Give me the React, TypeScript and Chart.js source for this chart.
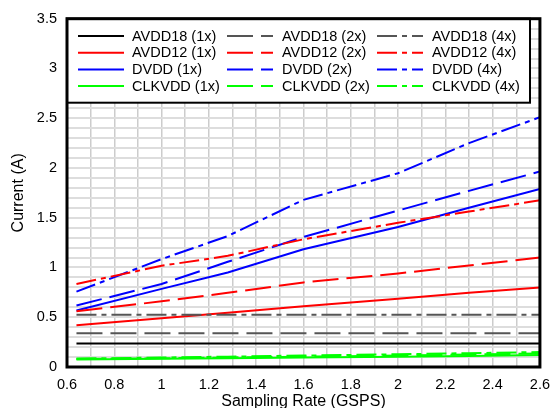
import React, { useEffect, useRef } from 'react';
import { Chart, registerables } from 'chart.js';

Chart.register(...registerables);

// Sampling rate (GSPS)
const rates = [0.64, 1.0, 1.28, 1.6, 2.0, 2.3, 2.6];

// Current (A)
const avdd18_1x = [0.235, 0.235, 0.235, 0.235, 0.235, 0.235, 0.235];
const avdd18_2x = [0.34, 0.34, 0.34, 0.34, 0.34, 0.34, 0.34];
const avdd18_4x = [0.525, 0.525, 0.525, 0.525, 0.525, 0.525, 0.525];

const avdd12_1x = [0.42, 0.49, 0.545, 0.61, 0.685, 0.745, 0.8];
const avdd12_2x = [0.56, 0.66, 0.745, 0.85, 0.94, 1.02, 1.1];
const avdd12_4x = [0.835, 1.017, 1.117, 1.283, 1.449, 1.562, 1.675];

const dvdd_1x = [0.568, 0.785, 0.95, 1.183, 1.406, 1.6, 1.79];
const dvdd_2x = [0.618, 0.834, 1.057, 1.306, 1.572, 1.77, 1.964];
const dvdd_4x = [0.757, 1.084, 1.316, 1.68, 1.947, 2.25, 2.51];

const clkvdd_1x = [0.075, 0.082, 0.088, 0.095, 0.104, 0.111, 0.12];
const clkvdd_2x = [0.08, 0.088, 0.096, 0.104, 0.115, 0.125, 0.135];
const clkvdd_4x = [0.085, 0.095, 0.104, 0.115, 0.128, 0.139, 0.15];

const railNames = ['AVDD18', 'AVDD12', 'DVDD', 'CLKVDD'];
const modeNames = ['1x', '2x', '4x'];

const xTitle = 'Sampling Rate (GSPS)';
const yTitle = 'Current (A)';

const FONT = '"Liberation Sans", Arial, Helvetica, sans-serif';

export default function App() {
  const ref = useRef<HTMLCanvasElement>(null);

  useEffect(() => {
    document.body.style.margin = '0';
    const canvas = ref.current;
    if (!canvas) return;

    const railColors = [
      ['#000000', '#555555', '#555555'],
      ['#ff0000', '#ff0000', '#ff0000'],
      ['#0000ff', '#0000ff', '#0000ff'],
      ['#00ff00', '#00ff00', '#00ff00'],
    ];
    const dashes: number[][] = [[], [26, 8], [20, 5, 5, 5]];
    const values = [
      [avdd18_1x, avdd18_2x, avdd18_4x],
      [avdd12_1x, avdd12_2x, avdd12_4x],
      [dvdd_1x, dvdd_2x, dvdd_4x],
      [clkvdd_1x, clkvdd_2x, clkvdd_4x],
    ];

    const datasets: any[] = [];
    railNames.forEach((rail, r) => {
      modeNames.forEach((mode, c) => {
        datasets.push({
          label: `${rail} (${mode})`,
          data: rates.map((x, i) => ({ x, y: values[r][c][i] })),
          borderColor: railColors[r][c],
          backgroundColor: railColors[r][c],
          borderDash: dashes[c],
          borderWidth: 2,
          pointRadius: 0,
          tension: 0,
          fill: false,
        });
      });
    });

    const boxLegend = {
      id: 'boxLegend',
      afterDraw(chart: any) {
        const { ctx, chartArea: a } = chart;
        ctx.save();
        const bx = a.left;
        const by = a.top;
        const bw = 463;
        const bh = 84;
        ctx.fillStyle = '#ffffff';
        ctx.fillRect(bx, by, bw, bh);
        ctx.lineWidth = 2;
        ctx.strokeStyle = '#000000';
        ctx.setLineDash([]);
        ctx.strokeRect(bx, by, bw, bh);

        const colLine = [11, 160, 310];
        const colText = [65, 215, 365];
        const rowY = [17.3, 34, 50.7, 67.3];
        ctx.font = `14.5px ${FONT}`;
        ctx.textBaseline = 'middle';
        ctx.textAlign = 'left';
        chart.data.datasets.forEach((ds: any, i: number) => {
          const r = Math.floor(i / 3);
          const c = i % 3;
          const y = by + rowY[r];
          ctx.strokeStyle = ds.borderColor;
          ctx.lineWidth = 2;
          ctx.setLineDash(ds.borderDash || []);
          ctx.beginPath();
          ctx.moveTo(bx + colLine[c], y);
          ctx.lineTo(bx + colLine[c] + 46, y);
          ctx.stroke();
          ctx.setLineDash([]);
          ctx.fillStyle = '#000000';
          ctx.fillText(ds.label, bx + colText[c], y + 0.5);
        });

        // plot frame
        ctx.setLineDash([]);
        ctx.strokeStyle = '#000000';
        ctx.lineWidth = 3;
        ctx.strokeRect(a.left, a.top, a.right - a.left, a.bottom - a.top);
        ctx.restore();
      },
    };

    const chart = new Chart(canvas, {
      type: 'line',
      data: { datasets },
      plugins: [boxLegend],
      options: {
        animation: false,
        responsive: false,
        maintainAspectRatio: false,
        layout: { padding: { top: 16, right: 12, left: 0, bottom: 0 } },
        font: { family: FONT, size: 14 },
        plugins: {
          legend: { display: false },
          tooltip: { enabled: false },
        },
        scales: {
          x: {
            type: 'linear',
            min: 0.6,
            max: 2.6,
            ticks: {
              stepSize: 0.1,
              autoSkip: false,
              maxRotation: 0,
              minRotation: 0,
              padding: 9,
              color: '#000000',
              font: { family: FONT, size: 14.5 },
              callback: (v: any) => {
                const n = Math.round(Number(v) * 10);
                return n % 2 === 0 ? String(n / 10) : '';
              },
            },
            grid: { color: '#cccccc', lineWidth: 1.5, drawTicks: false },
            border: { display: false },
            title: {
              display: true,
              text: xTitle,
              color: '#000000',
              font: { family: FONT, size: 16, lineHeight: 0.75 },
              padding: { top: 0, bottom: 0 },
            },
            afterFit: (s: any) => {
              s.height = 41;
            },
          },
          y: {
            type: 'linear',
            min: 0,
            max: 3.5,
            ticks: {
              stepSize: 0.1,
              autoSkip: false,
              padding: 10,
              color: '#000000',
              font: { family: FONT, size: 14.5 },
              callback: (v: any) => {
                const n = Math.round(Number(v) * 10);
                return n % 5 === 0 ? String(n / 10) : '';
              },
            },
            grid: { color: '#dddddd', lineWidth: 2, drawTicks: false },
            border: { display: false },
            title: {
              display: true,
              text: yTitle,
              color: '#000000',
              font: { family: FONT, size: 16, lineHeight: 1.2 },
              padding: { top: 9, bottom: 0 },
            },
            afterFit: (s: any) => {
              s.width = 67;
            },
          },
        },
      } as any,
    });

    return () => chart.destroy();
  }, []);

  return (
    <div style={{ position: 'fixed', left: 0, top: 0, width: 559, height: 408, background: '#fff' }}>
      <canvas ref={ref} width={559} height={408} style={{ width: 559, height: 408, display: 'block' }} />
    </div>
  );
}
